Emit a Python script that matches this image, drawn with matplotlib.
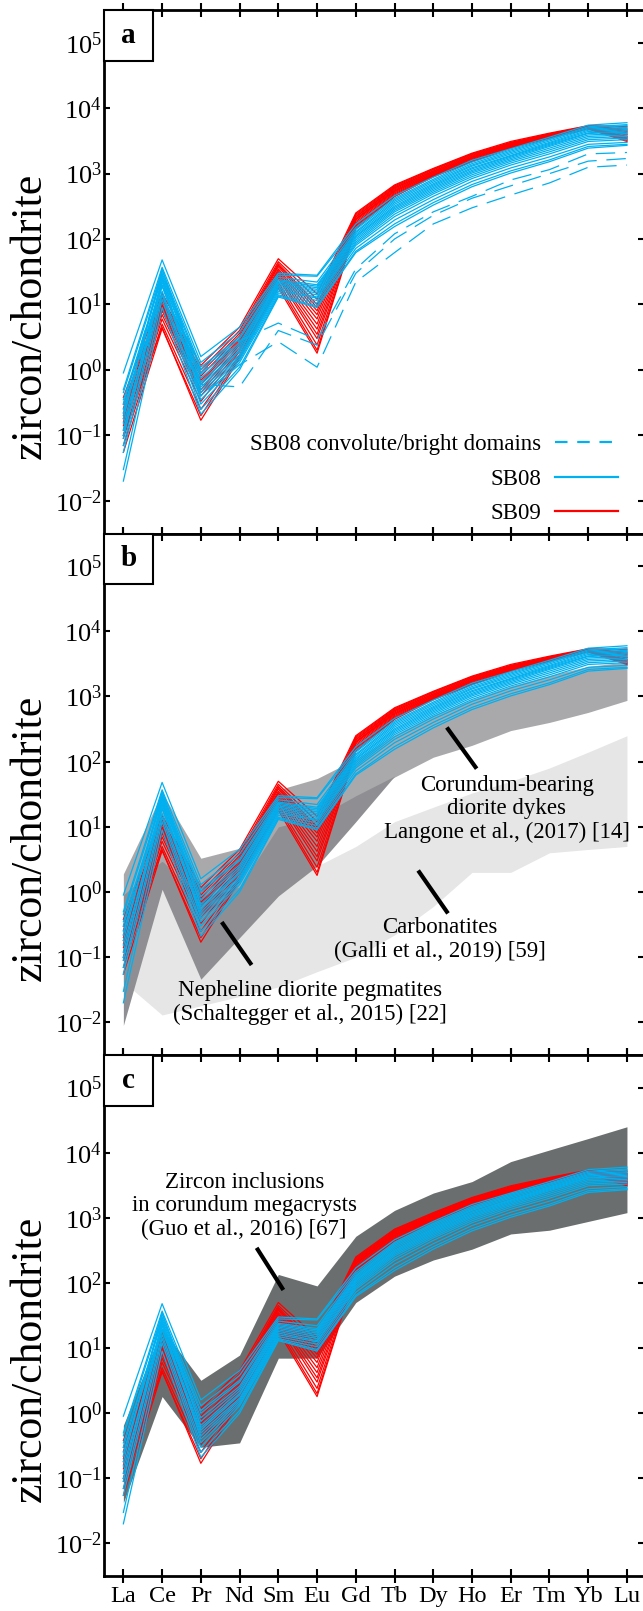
import numpy as np
import matplotlib
matplotlib.use('Agg')
import matplotlib.pyplot as plt
from matplotlib.patches import Rectangle
from matplotlib.ticker import FixedLocator, FuncFormatter, NullLocator

plt.rcParams['font.family'] = ['Liberation Serif', 'DejaVu Serif']
plt.rcParams['mathtext.fontset'] = 'custom'
plt.rcParams['mathtext.rm'] = 'Liberation Serif'
plt.rcParams['lines.scale_dashes'] = False

REE = ['La', 'Ce', 'Pr', 'Nd', 'Sm', 'Eu', 'Gd', 'Tb', 'Dy', 'Ho', 'Er', 'Tm', 'Yb', 'Lu']

# SB08 zircon (solid blue), chondrite normalised
SB08 = [
    [0.90, 48, 1.6, 4.5, 30, 28, 170, 460, 880, 1600, 2400, 3600, 5500, 6000],
    [0.50, 37, 1.3, 3.8, 28, 27, 150, 420, 820, 1500, 2300, 3400, 5200, 5600],
    [0.45, 33, 1.1, 3.2, 26, 22, 140, 400, 780, 1420, 2200, 3300, 5000, 5400],
    [0.22, 30, 1.0, 3.0, 24, 20, 130, 380, 740, 1350, 2100, 3150, 4800, 5100],
    [0.30, 28, 0.85, 2.6, 23, 19, 125, 360, 700, 1300, 2000, 3000, 4600, 4900],
    [0.35, 26, 0.75, 2.4, 22, 18, 118, 340, 670, 1230, 1900, 2900, 4400, 4700],
    [0.12, 25, 0.65, 2.2, 21, 17, 112, 320, 640, 1180, 1850, 2800, 4200, 4500],
    [0.18, 35, 0.60, 2.0, 20, 16, 108, 305, 610, 1120, 1780, 2700, 4100, 4300],
    [0.25, 22, 0.55, 1.9, 19, 15, 102, 290, 580, 1070, 1700, 2600, 3900, 4100],
    [0.15, 20, 0.50, 1.7, 18, 14, 96, 275, 550, 1020, 1620, 2450, 3700, 3900],
    [0.10, 19, 0.45, 1.6, 17, 13, 90, 260, 520, 960, 1540, 2300, 3500, 3700],
    [0.09, 24, 0.40, 1.5, 16, 12.5, 85, 240, 490, 900, 1450, 2150, 3300, 3500],
    [0.07, 16, 0.35, 1.4, 15, 11.5, 80, 220, 450, 840, 1350, 2000, 3100, 3300],
    [0.055, 14, 0.30, 1.3, 14, 10.5, 72, 195, 400, 760, 1220, 1800, 2800, 3000],
    [0.03, 12, 0.25, 1.1, 13.5, 9.5, 65, 170, 360, 680, 1100, 1620, 2600, 2800],
    [0.02, 9, 0.21, 1.0, 13, 9, 62, 155, 330, 630, 1020, 1520, 2450, 2700],
]

# SB08 convolute/bright domains (dashed blue)
SB08_CB = [
    [0.30, 30, 0.9, 2.8, 5.2, 2.9, 35, 120, 260, 450, 800, 1150, 2000, 2100],
    [0.20, 22, 0.6, 0.55, 4.0, 2.4, 30, 100, 230, 420, 650, 1000, 1550, 1700],
    [0.12, 15, 0.4, 1.2, 2.7, 1.1, 22, 62, 170, 300, 470, 720, 1250, 1350],
]

# SB09 zircon (solid red)
SB09 = [
    [0.38, 15, 1.17, 4.5, 50, 14.5, 250, 670, 1200, 2050, 3100, 4150, 5400, 5200],
    [0.30, 13, 1.0, 4.0, 45, 12, 240, 650, 1170, 2000, 3000, 4050, 5300, 4800],
    [0.26, 12, 0.9, 3.6, 42, 10, 230, 630, 1140, 1950, 2950, 4000, 5250, 4600],
    [0.22, 11, 0.8, 3.3, 40, 9, 220, 610, 1100, 1900, 2900, 3950, 5200, 4400],
    [0.20, 10, 0.7, 3.0, 38, 8, 215, 600, 1080, 1850, 2850, 3900, 5150, 4200],
    [0.18, 9.5, 0.65, 2.8, 35, 7, 205, 580, 1050, 1800, 2800, 3850, 5100, 4000],
    [0.16, 9, 0.6, 2.6, 33, 6, 200, 560, 1030, 1770, 2750, 3800, 5050, 3900],
    [0.14, 8.5, 0.5, 2.4, 31, 5, 195, 545, 1000, 1730, 2700, 3750, 5000, 3700],
    [0.12, 8, 0.45, 2.2, 29, 4.2, 185, 530, 980, 1700, 2650, 3700, 5000, 3600],
    [0.10, 7, 0.4, 2.0, 27, 3.5, 175, 510, 960, 1650, 2600, 3650, 4950, 3500],
    [0.09, 6, 0.33, 1.9, 25, 3.0, 165, 490, 940, 1600, 2550, 3600, 4900, 3400],
    [0.07, 5, 0.25, 1.7, 22, 2.4, 158, 470, 920, 1560, 2500, 3550, 4900, 3300],
    [0.055, 4.3, 0.20, 1.6, 20, 2.0, 150, 455, 900, 1530, 2480, 3500, 4850, 3200],
    [0.10, 4.5, 0.17, 1.5, 18, 1.8, 145, 445, 890, 1520, 2450, 3500, 4800, 3100],
]

# reference fields, panel b
CARB_TOP = [0.5, 1.5, 0.3, 0.5, 1.5, 2.5, 5, 12, 20, 33, 50, 80, 140, 250]
CARB_BOT = [0.042, 0.013, 0.018, 0.025, 0.035, 0.06, 0.1, 0.22, 0.6, 2.0, 2.0, 4.0, 4.5, 5.0]
LANG_TOP = [1.9, 33, 3.3, 4.7, 37, 55, 110, 260, 520, 900, 1450, 2100, 2900, 3400]
LANG_BOT = [0.3, 3, 0.3, 0.5, 3, 5, 25, 58, 117, 178, 300, 400, 570, 870]
SCHAL_TOP = [0.9, 3, 0.8, 1.2, 10, 14, 30, 60]
SCHAL_BOT = [0.009, 1.1, 0.046, 0.2, 0.87, 2.5, 12, 60]

# reference field, panel c
GUO_TOP = [0.65, 20, 3.2, 7.8, 135, 90, 520, 1300, 2400, 3600, 7300, 11000, 16500, 25000]
GUO_BOT = [0.042, 1.8, 0.30, 0.35, 7, 7, 50, 127, 225, 330, 565, 645, 880, 1200]

BLUE = '#00B0F0'
RED = '#FF0000'
DASH = (14, 7)
x = np.arange(len(REE))

fig = plt.figure(figsize=(6.43, 16.11), dpi=100)
W, H = 643.0, 1611.0
left = 104 / W
width = 540 / W
panels = [(10, 533.5), (533.5, 1055), (1055, 1576)]
axes = []
for top, bot in panels:
    ax = fig.add_axes([left, 1 - bot / H, width, (bot - top) / H])
    axes.append(ax)


def draw_lines(ax, dashed=False):
    for s in SB09:
        ax.plot(x, s, color=RED, lw=0.9, zorder=3)
    for s in SB08:
        ax.plot(x, s, color=BLUE, lw=0.9, zorder=4)
    if dashed:
        for s in SB08_CB:
            ax.plot(x, s, color=BLUE, lw=0.9, dashes=DASH, zorder=4)


def style(ax, letter, bottom_labels=False):
    ax.set_yscale('log')
    ax.set_xlim(-0.5, 13.44)
    ax.set_ylim(10 ** -2.5, 10 ** 5.5)
    ax.yaxis.set_major_locator(FixedLocator([10.0 ** k for k in range(-2, 6)]))
    ax.yaxis.set_minor_locator(NullLocator())
    ax.yaxis.set_major_formatter(FuncFormatter(
        lambda v, p: r'$\mathregular{10^{%d}}$' % int(round(np.log10(v)))))
    ax.set_xticks(x)
    ax.set_xticklabels(REE if bottom_labels else [])
    ax.tick_params(axis='x', direction='inout', length=10, width=1.5,
                   top=True, bottom=True, labelsize=17.5, pad=2)
    ax.tick_params(axis='y', direction='in', length=4.5, width=1.5,
                   left=True, right=True, labelsize=19, pad=1.5)
    for sp in ax.spines.values():
        sp.set_linewidth(2)
    ax.spines['right'].set_visible(False)
    ax.add_patch(Rectangle((0, 1 - 0.0974), 0.0907, 0.0974, transform=ax.transAxes,
                           facecolor='white', edgecolor='black', lw=1.5, zorder=10,
                           clip_on=False))
    ax.text(0.0907 / 2, 1 - 0.0974 / 2, letter, transform=ax.transAxes, ha='center',
            va='center', fontsize=21, fontweight='bold', zorder=11)


ax_a, ax_b, ax_c = axes

# panel a
draw_lines(ax_a, dashed=True)
style(ax_a, 'a')
ax_a.plot([], [], color=BLUE, lw=1.6, dashes=(9, 7), label='SB08 convolute/bright domains')
ax_a.plot([], [], color=BLUE, lw=1.6, label='SB08')
ax_a.plot([], [], color=RED, lw=1.6, label='SB09')
leg = ax_a.legend(loc='lower right', bbox_to_anchor=(0.952, 0.018), frameon=False,
                  markerfirst=False, fontsize=16.5, handlelength=2.75, handletextpad=0.6,
                  labelspacing=0.58, borderpad=0, borderaxespad=0)

# panel b
ax_b.fill_between(x, CARB_BOT, CARB_TOP, color='#E6E6E6', lw=0, zorder=1)
ax_b.fill_between(x, LANG_BOT, LANG_TOP, color='#A9A9AC', lw=0, zorder=1.5)
ax_b.fill_between(x[:len(SCHAL_TOP)], SCHAL_BOT, SCHAL_TOP, color='#8F8F93', lw=0, zorder=2)
draw_lines(ax_b)
style(ax_b, 'b')
txt = dict(ha='center', va='center', fontsize=16.5, linespacing=1.15, zorder=6)
ax_b.text(9.9, 19, 'Corundum-bearing\ndiorite dykes\nLangone et al., (2017) [14]', **txt)
ax_b.plot([8.35, 9.12], [335, 78], color='black', lw=3, solid_capstyle='butt', zorder=6)
ax_b.text(8.17, 0.187, 'Carbonatites\n(Galli et al., 2019) [59]', **txt)
ax_b.plot([7.61, 8.38], [2.14, 0.47], color='black', lw=3, solid_capstyle='butt', zorder=6)
ax_b.text(4.82, 0.02, 'Nepheline diorite pegmatites\n(Schaltegger et al., 2015) [22]', **txt)
ax_b.plot([2.54, 3.31], [0.346, 0.076], color='black', lw=3, solid_capstyle='butt', zorder=6)

# panel c
ax_c.fill_between(x, GUO_BOT, GUO_TOP, color='#6A6E6E', lw=0, zorder=1)
draw_lines(ax_c)
style(ax_c, 'c', bottom_labels=True)
ax_c.text(3.12, 1540, 'Zircon inclusions\nin corundum megacrysts\n(Guo et al., 2016) [67]', **txt)
ax_c.plot([3.44, 4.13], [346, 78], color='black', lw=3, solid_capstyle='butt', zorder=6)

for ax in axes:
    pos = ax.get_position()
    fig.text(30 / W, pos.y1 - 0.584 * pos.height, 'zircon/chondrite', rotation=90,
             ha='center', va='center', fontsize=31.5)

fig.savefig('out.png', dpi=100)
